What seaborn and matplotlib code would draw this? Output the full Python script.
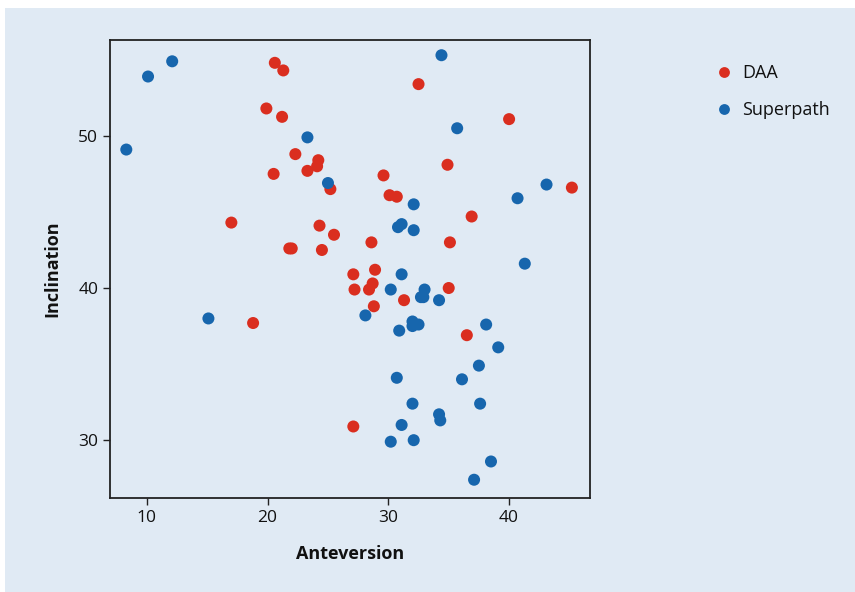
import pandas as pd
import numpy as np
import seaborn as sns
import matplotlib.pyplot as plt
from matplotlib.patches import Rectangle

# values
daa_x = [20.6, 21.3, 19.9, 21.2, 22.3, 24.2, 24.1, 23.3, 20.5, 25.2, 17.0, 24.3,
         32.5, 29.6, 30.1, 30.7, 34.9, 36.9, 40.0, 45.2, 35.1, 25.5, 21.8, 22.0,
         24.5, 18.8, 28.6, 27.1, 28.9, 27.2, 28.7, 28.4, 31.3, 28.8, 35.0, 27.1, 36.5]
daa_y = [54.8, 54.3, 51.8, 51.25, 48.8, 48.4, 48.0, 47.7, 47.5, 46.5, 44.3, 44.1,
         53.4, 47.4, 46.1, 46.0, 48.1, 44.7, 51.1, 46.6, 43.0, 43.5, 42.6, 42.6,
         42.5, 37.7, 43.0, 40.9, 41.2, 39.9, 40.3, 39.9, 39.2, 38.8, 40.0, 30.9, 36.9]

sp_x = [10.1, 12.1, 8.3, 15.1, 23.3, 25.0, 34.4, 35.7, 32.1, 30.8, 31.1, 32.1,
        31.1, 30.2, 33.0, 32.7, 32.9, 34.2, 28.1, 32.0, 32.5, 32.0, 30.9, 30.7,
        32.0, 34.2, 34.3, 31.1, 30.2, 32.1, 41.3, 38.1, 39.1, 37.5, 36.1, 37.6,
        38.5, 37.1, 43.1, 40.7]
sp_y = [53.9, 54.9, 49.1, 38.0, 49.9, 46.9, 55.3, 50.5, 45.5, 44.0, 44.2, 43.8,
        40.9, 39.9, 39.9, 39.4, 39.4, 39.2, 38.2, 37.8, 37.6, 37.5, 37.2, 34.1,
        32.4, 31.7, 31.3, 31.0, 29.9, 30.0, 41.6, 37.6, 36.1, 34.9, 34.0, 32.4,
        28.6, 27.4, 46.8, 45.9]

df = pd.DataFrame({
    'Anteversion': daa_x + sp_x,
    'Inclination': daa_y + sp_y,
    'Group': ['DAA'] * len(daa_x) + ['Superpath'] * len(sp_x),
})

bg = '#e0eaf4'
sns.set_style('ticks')
plt.rcParams['font.family'] = ['Open Sans', 'DejaVu Sans']
plt.rcParams['text.color'] = '#111111'
plt.rcParams['axes.labelcolor'] = '#111111'

fig = plt.figure(figsize=(8.55, 5.92), dpi=100, facecolor='white')
fig.patches.append(Rectangle((5 / 855, 0), 1, 1 - 8 / 592, transform=fig.transFigure,
                             facecolor=bg, edgecolor='none', zorder=-10))
ax = fig.add_axes([110 / 855, 1 - 498 / 592, 480 / 855, 458 / 592])
ax.set_facecolor(bg)

sns.scatterplot(data=df, x='Anteversion', y='Inclination', hue='Group',
                palette={'DAA': '#da2e1f', 'Superpath': '#1766ad'},
                s=75, linewidth=0, alpha=1, ax=ax)

ax.set_xlim(6.95, 46.7)
ax.set_ylim(26.2, 56.3)
ax.set_xticks([10, 20, 30, 40])
ax.set_yticks([30, 40, 50])
for sp in ax.spines.values():
    sp.set_visible(True)
    sp.set_color('#222222')
    sp.set_linewidth(1.3)
ax.tick_params(length=5, width=1, color='#222222', labelsize=12.5, labelcolor='#111111')
ax.set_xlabel('Anteversion', fontsize=13, fontweight='bold', labelpad=14)
ax.set_ylabel('Inclination', fontsize=13, fontweight='bold', labelpad=12)

handles, labels = ax.get_legend_handles_labels()
ax.legend(handles, labels, loc='upper left', bbox_to_anchor=(690 / 855, 1 - 48 / 592),
          bbox_transform=fig.transFigure, frameon=False, fontsize=13,
          handletextpad=0.0, labelspacing=1.05, markerscale=0.9)

fig.savefig('out.png', dpi=100, facecolor='white')
